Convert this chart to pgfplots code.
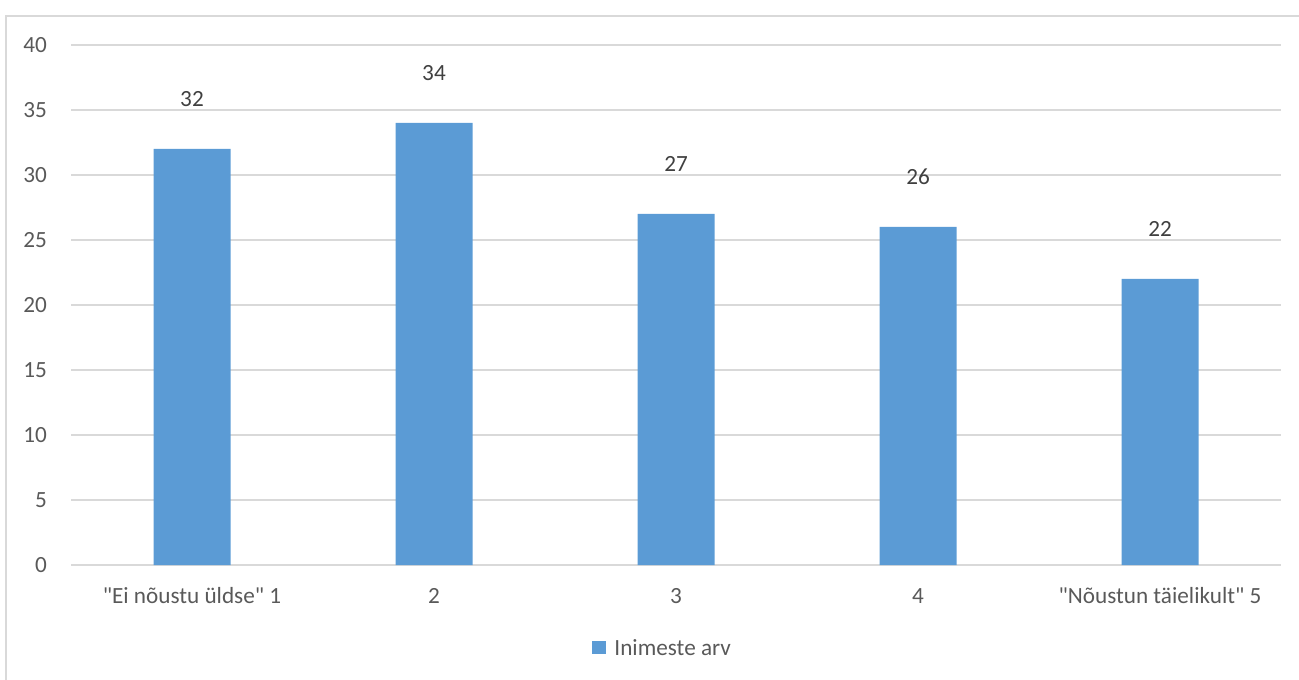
\documentclass[border=0pt]{standalone}
\usepackage{fontspec}
\setmainfont{Carlito}[Ligatures=TeXOff]
\usepackage{pgfplots}
\pgfplotsset{compat=1.18}

\definecolor{barblue}{HTML}{5B9BD5}
\definecolor{gridgray}{HTML}{D9D9D9}
\definecolor{ticktext}{HTML}{595959}
\definecolor{valtext}{HTML}{404040}

\newcommand{\chartfont}{\fontsize{23.2bp}{28bp}\selectfont}

\begin{document}
\begin{tikzpicture}[x=1bp,y=1bp]
  \useasboundingbox (-71,-114) rectangle (1228,565);
  % chart frame
  \draw[gridgray, line width=1.5bp] (-65,-140) rectangle (1260,549);
  \begin{axis}[
    at={(0,0)}, anchor=south west,
    scale only axis,
    width=1210bp, height=520bp,
    xmin=-0.5, xmax=4.5,
    ymin=0, ymax=40,
    ytick distance=5,
    xtick={0,1,2,3,4},
    xticklabels={{"Ei nõustu üldse" 1},2,3,4,{"Nõustun täielikult" 5}},
    axis line style={draw=none},
    major tick length=0pt,
    ymajorgrids,
    grid style={gridgray, line width=1.4bp},
    /pgf/number format/assume math mode=true,
    tick label style={font=\chartfont, text=ticktext, inner sep=0pt},
    yticklabel style={anchor=east, xshift=-24bp},
    xticklabel style={anchor=base, yshift=-38bp},
    ybar, bar width=77bp,
    nodes near coords,
    every node near coord/.append style={font=\chartfont, text=valtext, anchor=base, inner sep=0pt, yshift=42bp},
    legend style={draw=none, fill=none, at={(0.489,-0.16)}, anchor=center,
      font=\chartfont, text=ticktext,
      /tikz/every odd column/.append style={column sep=6bp}},
    legend image code/.code={\fill[#1, draw=none] (0bp,-6bp) rectangle (14bp,7bp);},
  ]
    \addplot[fill=barblue, draw=none] coordinates {(0,32) (1,34) (2,27) (3,26) (4,22)};
    \addlegendentry{Inimeste arv}
  \end{axis}
\end{tikzpicture}
\end{document}
